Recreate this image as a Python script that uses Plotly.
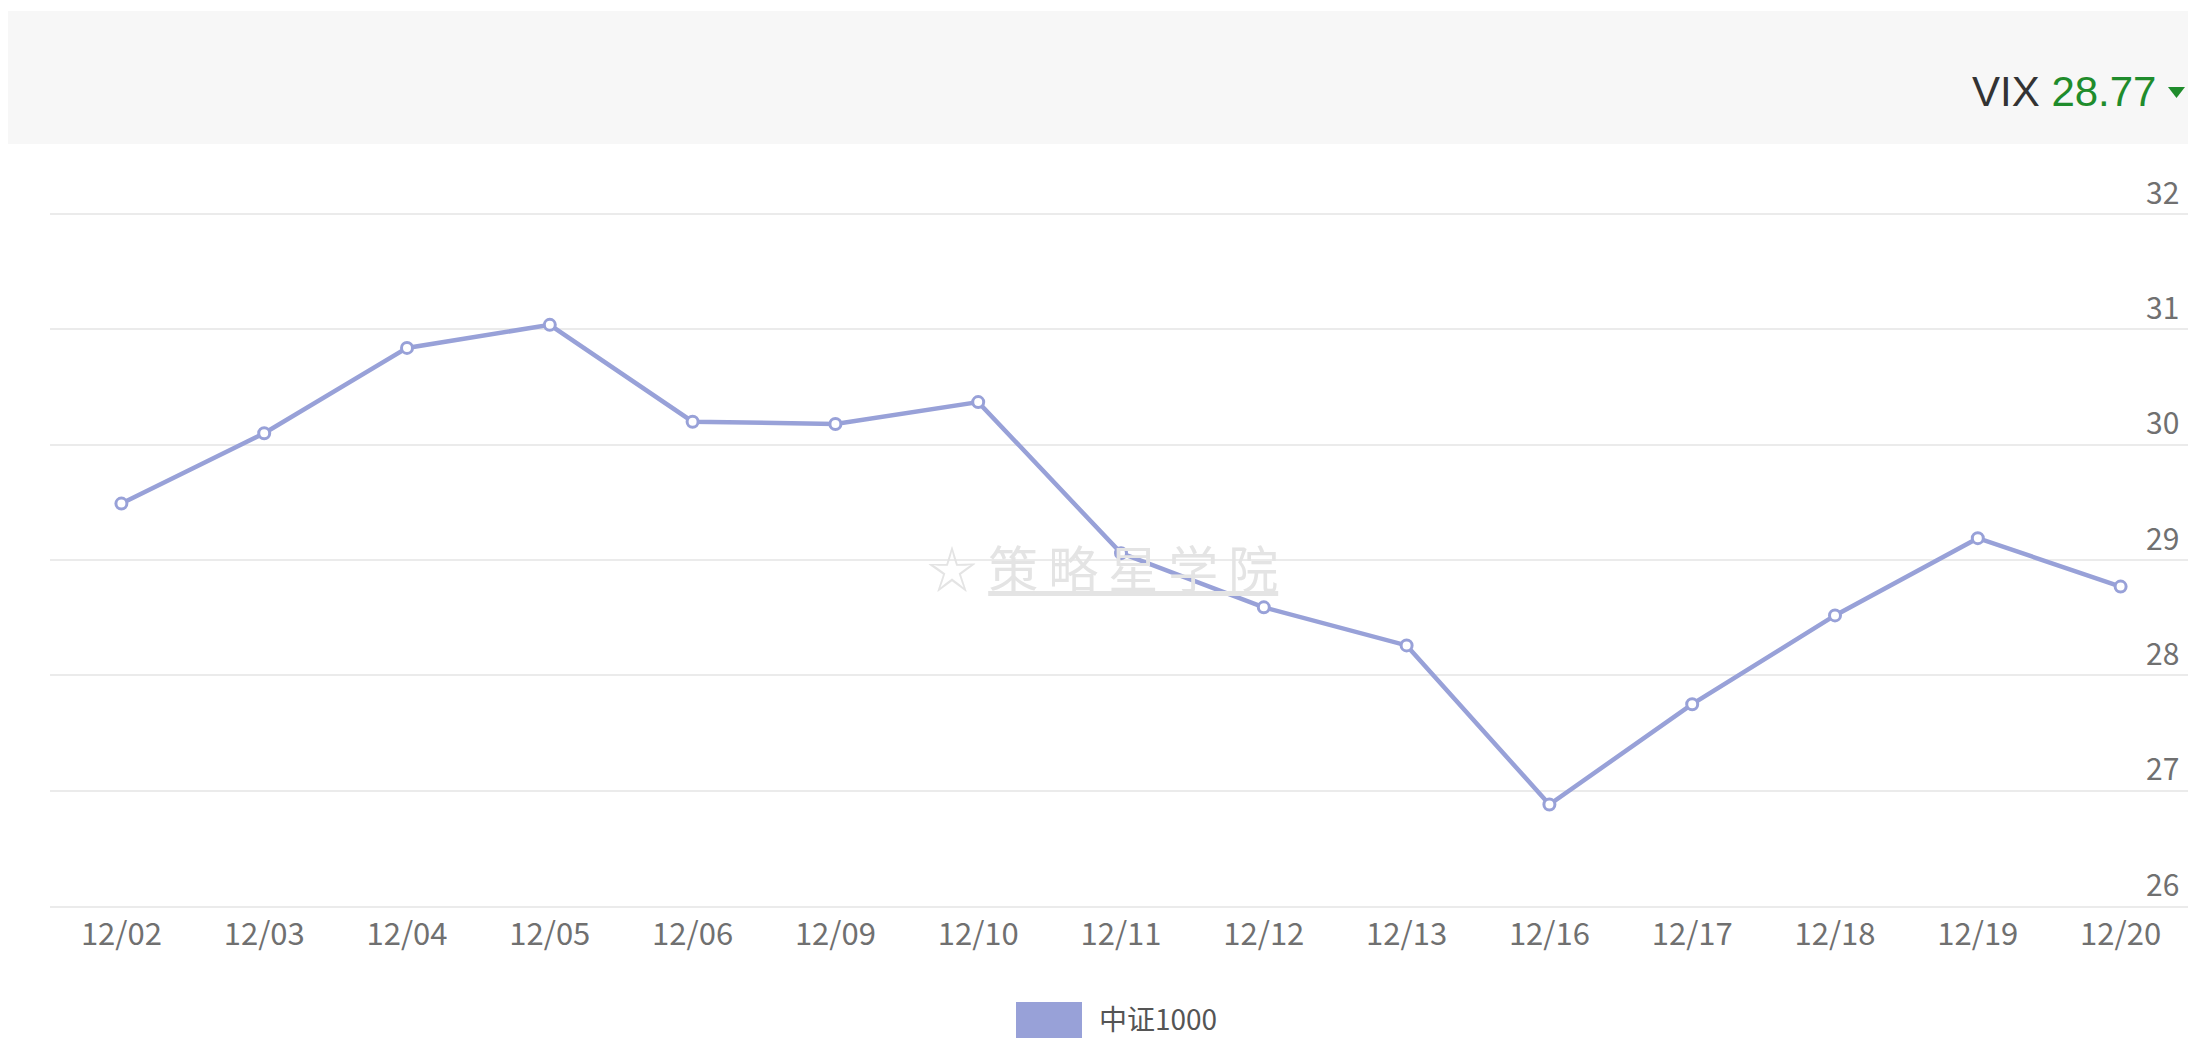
import plotly.graph_objects as go

# data
dates = ['12/02', '12/03', '12/04', '12/05', '12/06', '12/09', '12/10', '12/11',
         '12/12', '12/13', '12/16', '12/17', '12/18', '12/19', '12/20']
vix_values = [29.49, 30.10, 30.84, 31.04, 30.20, 30.18, 30.37, 29.06,
              28.59, 28.26, 26.88, 27.75, 28.52, 29.19, 28.77]
series_name = '中证1000'
y_ticks = [26, 27, 28, 29, 30, 31, 32]
y_range = [26, 32.01]
latest_label = 'VIX'
latest_value = '28.77'

# page is 2196x1038, the default body margin shifts the figure by 8px
PAGE_W, PAGE_H, OFF = 2196, 1038, 8
W, H = PAGE_W - OFF, PAGE_H - OFF
L, R, T, B = 42, 4, 205, 132
PLOT_W = W - L - R
PLOT_H = H - T - B

# page pixel -> paper helpers for the decorations
def px(x):
    return (x - OFF - L) / PLOT_W

def py(y):
    return (H - B - (y - OFF)) / PLOT_H

line_color = '#98a1d8'
font_family = 'Noto Sans CJK SC, Noto Sans, sans-serif'

fig = go.Figure()
fig.add_trace(go.Scatter(
    x=dates, y=vix_values, name=series_name, mode='lines+markers',
    line=dict(color=line_color, width=4.5),
    marker=dict(symbol='circle', size=11, color='white',
                line=dict(color=line_color, width=3)),
    showlegend=False,
))
# invisible copy so the label axis (y2) gets drawn
fig.add_trace(go.Scatter(
    x=dates, y=vix_values, yaxis='y2', mode='lines', opacity=0,
    showlegend=False, hoverinfo='skip',
))

fig.update_layout(
    width=W, height=H,
    margin=dict(l=L, r=R, t=T, b=B),
    paper_bgcolor='white', plot_bgcolor='white',
    font=dict(family=font_family, color='#666666'),
    xaxis=dict(
        type='category', range=[-0.5, len(dates) - 0.5],
        showgrid=False, ticks='', zeroline=False,
        showline=True, linecolor='#ebebeb', linewidth=2,
        tickfont=dict(size=31, color='#707070'),
    ),
    # grid + right border
    yaxis=dict(
        side='right', range=y_range, tickvals=y_ticks,
        showgrid=True, gridcolor='#ebebeb', gridwidth=2, zeroline=False,
        showline=True, linecolor='#ededed', linewidth=2,
        ticks='', showticklabels=False,
    ),
    # labels sit inside the plot, just above each grid line
    yaxis2=dict(
        overlaying='y', side='right', anchor='free', position=px(2145),
        range=y_range, tickvals=y_ticks,
        showgrid=False, zeroline=False, showline=False, ticks='',
        ticklabelposition='outside top',
        tickfont=dict(size=30, color='#707070'),
    ),
)

# grey header band
fig.add_shape(type='rect', xref='paper', yref='paper', layer='below',
              x0=px(8), x1=px(PAGE_W + 10), y0=py(144), y1=py(11),
              fillcolor='#f7f7f7', line=dict(width=0))

fig.add_annotation(
    xref='paper', yref='paper', x=px(2158), y=py(92),
    xanchor='right', yanchor='middle', showarrow=False,
    text=f"<span style='color:#333333'>{latest_label}</span> "
         f"<span style='color:#1f8c2c'>{latest_value}</span>",
    font=dict(family='Liberation Sans, Arial, sans-serif', size=42),
)
fig.add_shape(type='path', xref='paper', yref='paper',
              path=f'M {px(2168)} {py(87)} L {px(2185)} {py(87)} L {px(2176.5)} {py(98)} Z',
              fillcolor='#1f8c2c', line=dict(width=0))

# watermark
fig.add_annotation(
    xref='paper', yref='paper', x=px(1102), y=py(566),
    xanchor='center', yanchor='middle', showarrow=False,
    text='☆ <u>策\u2009略\u2009星\u2009学\u2009院</u>',
    font=dict(family=font_family, size=50, color='#e4e4e4'),
)

# legend drawn by hand
fig.add_shape(type='rect', xref='paper', yref='paper',
              x0=px(1016), x1=px(1082), y0=py(1040), y1=py(1002),
              fillcolor=line_color, line=dict(width=0))
fig.add_annotation(
    xref='paper', yref='paper', x=px(1097), y=py(1018),
    xanchor='left', yanchor='middle', showarrow=False,
    text=series_name, font=dict(family=font_family, size=28, color='#555555'),
)

fig.write_html('out.html')
